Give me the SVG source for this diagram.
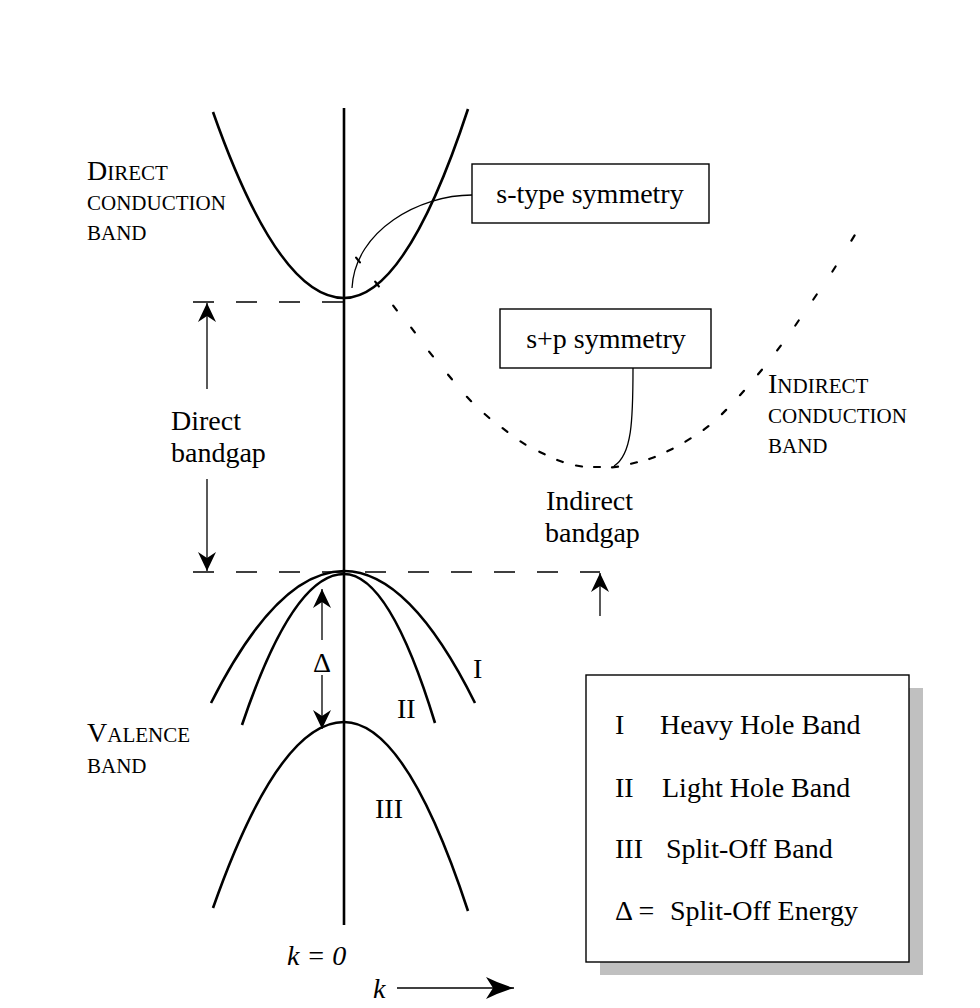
<svg xmlns="http://www.w3.org/2000/svg" width="980" height="1008" viewBox="0 0 980 1008">
<style>
text{font-family:"Liberation Serif","Times New Roman",serif;font-size:28px;fill:#000}
.it{font-style:italic}
.sc{font-size:21px}
.band{fill:none;stroke:#000;stroke-width:2.6}
.thin{fill:none;stroke:#000;stroke-width:1.3}
.dash{fill:none;stroke:#000;stroke-width:1.3;stroke-dasharray:21 22}
.dots{fill:none;stroke:#000;stroke-width:2.2;stroke-linecap:round}
.box{fill:#fff;stroke:#000;stroke-width:1.4}
</style>
<defs>
<marker id="ah" markerUnits="userSpaceOnUse" viewBox="-20 -10 20 20" markerWidth="20" markerHeight="20" refX="0" refY="0" orient="auto">
<path d="M0,0 L-19,-9 L-13,0 L-19,9 Z" fill="#000"/>
</marker>
<marker id="kh" markerUnits="userSpaceOnUse" viewBox="-30 -12 30 24" markerWidth="30" markerHeight="24" refX="0" refY="0" orient="auto">
<path d="M0,0 Q-14,-4 -28,-11 L-21,0 L-28,11 Q-14,4 0,0 Z" fill="#000"/>
</marker>
</defs>
<rect width="980" height="1008" fill="#fff"/>

<g id="axis">
<line x1="344" y1="108" x2="344" y2="925" stroke="#000" stroke-width="2.6"/>
</g>

<g id="direct-conduction-band">
<path class="band" d="M213,112 Q278.5,298 344,298 Q406,298 468,109"/>
<text x="87" y="180">D<tspan class="sc">IRECT</tspan></text>
<text class="sc" x="87" y="210">CONDUCTION</text>
<text class="sc" x="87" y="240">BAND</text>
</g>

<g id="indirect-conduction-band">
<path class="dots" d="M356.1,257.6L359.9,262.4M375.2,281.6L378.8,286.4M393.2,305.6L396.8,310.4M411.2,327.6L414.8,332.4M429.1,351.6L432.9,356.4M448.1,374.7L451.9,379.3M466.9,396.8L471.1,401.2M484.7,414L489.3,418M502.6,428.2L507.4,431.8M520.5,441.4L525.5,444.6M539.3,451.7L544.7,454.3M557.2,460L562.8,462M576,465.5L582,466.5M594,467L600,467M612,467.3L618,466.7M631.1,463.7L636.9,462.3M649.2,459L654.8,457M667.3,451.3L672.7,448.7M685.4,441.6L690.6,438.4M703.6,429.8L708.4,426.2M721.9,414.1L726.1,409.9M740,395.2L744,390.8M758.1,374.3L761.9,369.7M777.2,350.4L780.8,345.6M795.3,325.5L798.7,320.5M813.3,299.5L816.7,294.5M832.4,271.5L835.6,266.5M851.4,240.6L854.6,235.4"/>
<text x="768" y="393">I<tspan class="sc">NDIRECT</tspan></text>
<text class="sc" x="768" y="423">CONDUCTION</text>
<text class="sc" x="768" y="453">BAND</text>
</g>

<g id="valence-bands">
<path id="band-I" class="band" d="M211,703 Q277.5,571 344,571 Q409.5,571 475,703"/>
<path id="band-II" class="band" d="M242,725 Q293,574 344,574 Q389.5,574 435,723"/>
<path id="band-III" class="band" d="M213,908 Q278.5,722 344,722 Q406,722 468,911"/>
<text x="473" y="678">I</text>
<text x="397" y="718">II</text>
<text x="375" y="818">III</text>
<text x="87" y="742">V<tspan class="sc">ALENCE</tspan></text>
<text class="sc" x="87" y="773">BAND</text>
</g>

<g id="s-type-box">
<rect class="box" x="472" y="164" width="237" height="59"/>
<text x="590" y="203" text-anchor="middle">s-type symmetry</text>
</g>

<g id="sp-box">
<rect class="box" x="500" y="309" width="211" height="59"/>
<text x="606" y="348" text-anchor="middle">s+p symmetry</text>
</g>

<g id="direct-bandgap">
<text x="171" y="430">Direct</text>
<text x="171" y="462">bandgap</text>
</g>

<g id="indirect-bandgap">
<text x="546" y="510">Indirect</text>
<text x="545" y="542">bandgap</text>
</g>

<g id="delta-label">
<text x="322" y="672" text-anchor="middle" font-size="26">Δ</text>
</g>

<g id="k-labels">
<text class="it" x="287" y="965">k = 0</text>
<text class="it" x="373" y="998">k</text>
</g>

<g id="legend">
<rect x="600" y="688" width="323" height="287" fill="#c0c0c0"/>
<rect class="box" x="586" y="675" width="323" height="287"/>
<text x="615" y="734">I<tspan x="660">Heavy Hole Band</tspan></text>
<text x="615" y="797">II<tspan x="662">Light Hole Band</tspan></text>
<text x="615" y="858">III<tspan x="666">Split-Off Band</tspan></text>
<text x="615" y="920">Δ =<tspan x="670">Split-Off Energy</tspan></text>
</g>

<g id="connectors">
<line class="dash" x1="193" y1="302" x2="344" y2="302"/>
<line class="dash" x1="193" y1="572" x2="600" y2="572"/>
<path class="thin" d="M472,195 C420,195 355,230 352,288"/>
<path class="thin" d="M633,368 C633,420 632,455 614,466"/>
<line class="thin" x1="207" y1="389" x2="207" y2="303" marker-end="url(#ah)"/>
<line class="thin" x1="207" y1="479" x2="207" y2="571" marker-end="url(#ah)"/>
<line class="thin" x1="322" y1="640" x2="322" y2="589" marker-end="url(#ah)"/>
<line class="thin" x1="322" y1="675" x2="322" y2="729" marker-end="url(#ah)"/>
<line class="thin" x1="600" y1="616" x2="600" y2="573" marker-end="url(#ah)"/>
<line class="thin" x1="397" y1="988" x2="514" y2="988" marker-end="url(#kh)"/>
</g>
</svg>
